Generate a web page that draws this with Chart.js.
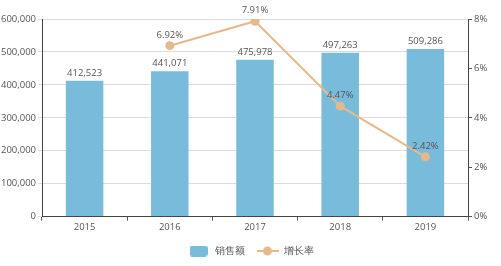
<!DOCTYPE html>
<html>
<head>
<meta charset="utf-8">
<script src="https://cdn.jsdelivr.net/npm/chart.js@4/dist/chart.umd.min.js"></script>
<style>
  html, body { margin: 0; padding: 0; background: #fff; }
  #wrap { width: 501px; height: 266px; }
</style>
</head>
<body>
<div id="wrap"><canvas id="chart"></canvas></div>
<script>
// data
const years = ['2015', '2016', '2017', '2018', '2019'];
const sales = [412523, 441071, 475978, 497263, 509286];
const growth = [null, 6.92, 7.91, 4.47, 2.42];
const salesTicks = [0, 100000, 200000, 300000, 400000, 500000, 600000];
const growthTicks = [0, 2, 4, 6, 8];

const barColor = '#79bbda';
const lineColor = '#e6b98c';
const textColor = '#555';

// legend icons
function barIcon() {
  const c = document.createElement('canvas');
  c.width = 18; c.height = 11;
  const x = c.getContext('2d');
  x.fillStyle = barColor;
  x.beginPath();
  x.roundRect(0, 0, 18, 11, 3);
  x.fill();
  return c;
}
function lineIcon() {
  const c = document.createElement('canvas');
  c.width = 22; c.height = 10;
  const x = c.getContext('2d');
  x.strokeStyle = lineColor;
  x.lineWidth = 2;
  x.beginPath(); x.moveTo(0, 5); x.lineTo(22, 5); x.stroke();
  x.fillStyle = lineColor;
  x.beginPath(); x.arc(11, 5, 4.5, 0, Math.PI * 2); x.fill();
  return c;
}
const icons = { '销售额': barIcon(), '增长率': lineIcon() };

// value labels drawn above the marks
const valueLabels = {
  id: 'valueLabels',
  afterDatasetsDraw(chart) {
    const ctx = chart.ctx;
    ctx.save();
    ctx.font = '9.5px "Open Sans", sans-serif';
    ctx.fillStyle = textColor;
    ctx.textAlign = 'center';
    ctx.textBaseline = 'bottom';
    chart.getDatasetMeta(1).data.forEach((el, i) => {
      ctx.fillText(sales[i].toLocaleString('en-US'), el.x, el.y - 3);
    });
    chart.getDatasetMeta(0).data.forEach((el, i) => {
      if (growth[i] == null) return;
      ctx.fillText(growth[i].toFixed(2) + '%', el.x, el.y - 6);
    });
    ctx.restore();
  }
};

Chart.defaults.font.family = '"Open Sans", sans-serif';
Chart.defaults.font.size = 9.5;
Chart.defaults.color = textColor;

new Chart(document.getElementById('chart'), {
  data: {
    labels: years,
    datasets: [
      {
        type: 'line',
        label: '增长率',
        data: growth,
        yAxisID: 'y1',
        borderColor: lineColor,
        backgroundColor: lineColor,
        borderWidth: 2,
        pointRadius: 4.5,
        pointBackgroundColor: lineColor,
        pointBorderWidth: 0,
        order: 0,
      },
      {
        type: 'bar',
        label: '销售额',
        data: sales,
        yAxisID: 'y',
        backgroundColor: barColor,
        categoryPercentage: 1,
        barPercentage: 0.44,
        order: 1,
      },
    ],
  },
  options: {
    responsive: true,
    maintainAspectRatio: false,
    animation: false,
    layout: { padding: { top: 19, right: 0, left: 0, bottom: 0 } },
    plugins: {
      tooltip: { enabled: false },
      legend: {
        position: 'bottom',
        labels: {
          usePointStyle: true,
          pointStyleWidth: 22,
          padding: 12,
          color: textColor,
          font: { size: 10 },
          generateLabels(chart) {
            return chart.data.datasets
              .map((ds, i) => ({
                text: ds.label,
                datasetIndex: i,
                pointStyle: icons[ds.label],
                fontColor: textColor,
                hidden: false,
              }))
              .reverse();
          },
        },
      },
    },
    scales: {
      x: {
        offset: true,
        grid: { offset: true, drawOnChartArea: false, tickLength: 4, color: '#555' },
        border: { color: '#444', width: 1 },
        ticks: { color: textColor, padding: 1 },
      },
      y: {
        position: 'left',
        min: 0,
        max: 600000,
        afterBuildTicks(s) { s.ticks = salesTicks.map((v) => ({ value: v })); },
        afterFit(s) { s.width = 42; },
        grid: { color: '#dcdcdc', tickLength: 4 },
        border: { color: '#444', width: 1 },
        ticks: {
          color: textColor,
          padding: 2,
          callback: (v) => v.toLocaleString('en-US'),
        },
      },
      y1: {
        position: 'right',
        min: 0,
        max: 8,
        afterBuildTicks(s) { s.ticks = growthTicks.map((v) => ({ value: v })); },
        afterFit(s) { s.width = 33; },
        grid: { drawOnChartArea: false, tickLength: 4, color: '#555' },
        border: { color: '#444', width: 1 },
        ticks: { color: textColor, padding: 2, callback: (v) => v + '%' },
      },
    },
  },
  plugins: [valueLabels],
});
</script>
</body>
</html>
